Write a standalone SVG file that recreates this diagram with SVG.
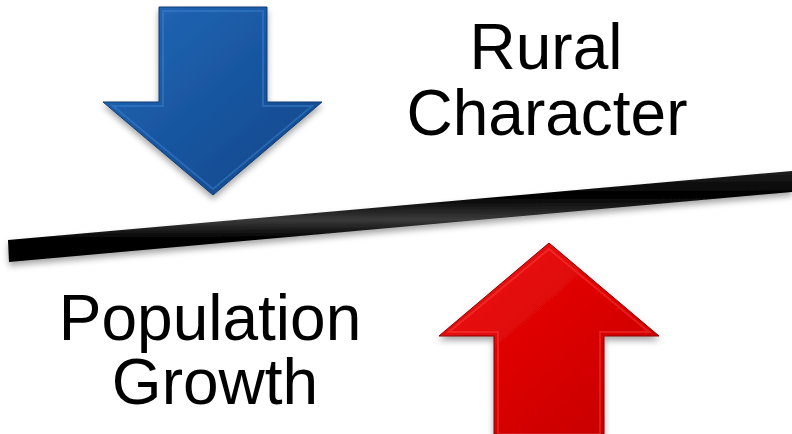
<svg xmlns="http://www.w3.org/2000/svg" width="792" height="434" viewBox="0 0 792 434">
<defs>
<style>
text{font-family:"Liberation Sans",Arial,sans-serif;font-size:64px;fill:#000;text-anchor:middle}
</style>
<filter id="sh" x="-10%" y="-10%" width="120%" height="130%">
<feDropShadow dx="0" dy="4" stdDeviation="3" flood-color="#000" flood-opacity="0.35"/>
</filter>
<linearGradient id="blue" x1="0" y1="0" x2="1" y2="1">
<stop offset="0" stop-color="#2468b8"/>
<stop offset="0.5" stop-color="#1856a0"/>
<stop offset="1" stop-color="#114586"/>
</linearGradient>
<linearGradient id="red" x1="0" y1="0" x2="1" y2="1">
<stop offset="0" stop-color="#f02020"/>
<stop offset="0.5" stop-color="#dc0000"/>
<stop offset="1" stop-color="#c20000"/>
</linearGradient>
<linearGradient id="bar" x1="0" y1="0" x2="0.03" y2="1">
<stop offset="0" stop-color="#222"/>
<stop offset="0.3" stop-color="#000"/>
<stop offset="0.55" stop-color="#3a3a3a"/>
<stop offset="0.75" stop-color="#000"/>
<stop offset="1" stop-color="#000"/>
</linearGradient>
</defs>
<g id="blue-arrow" filter="url(#sh)">
<polygon points="159,7 267,7 267,102 322,102 213,195 103,102 159,102" fill="url(#blue)" stroke="#0f3d75" stroke-width="1"/>
<polygon points="163,11 263,11 263,106 312,106 213,189 113,106 163,106" fill="none" stroke="#3b7fd0" stroke-width="2" stroke-opacity="0.5"/>
</g>
<g id="red-arrow" filter="url(#sh)">
<polygon points="549,243 659,336 604,336 604,434 494,434 494,336 439,336" fill="url(#red)" stroke="#8a0000" stroke-width="1"/>
<polygon points="549,249 649,332 600,332 600,434 498,434 498,332 449,332" fill="none" stroke="#ff4a4a" stroke-width="2" stroke-opacity="0.4"/>
</g>
<g id="balance-bar" filter="url(#sh)">
<polygon points="8,240 792,171 792,192 9,262" fill="url(#bar)"/>
</g>
<g id="label-rural">
<text><tspan x="546" y="69">Rural</tspan><tspan x="547" y="135">Character</tspan></text>
</g>
<g id="label-population">
<text><tspan x="210" y="340">Population</tspan><tspan x="215" y="404">Growth</tspan></text>
</g>
</svg>
